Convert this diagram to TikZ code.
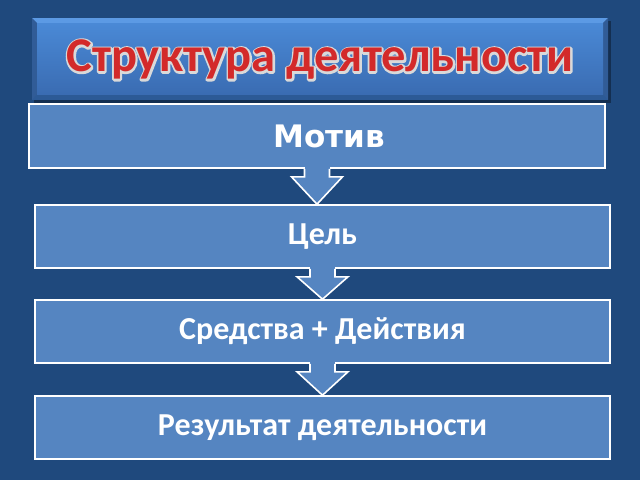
\documentclass[tikz,border=0pt]{standalone}
\usepackage{fontspec}
\newfontfamily\calib{Carlito}
\newfontfamily\dejav{DejaVu Sans}
\usetikzlibrary{calc}
\definecolor{bgblue}{HTML}{1F497D}
\definecolor{boxblue}{HTML}{5585C1}
\definecolor{titletop}{HTML}{4A89D6}
\definecolor{titlebot}{HTML}{3A6CB2}
\definecolor{bevellight}{HTML}{5C9AE4}
\definecolor{beveldark}{HTML}{2C5A96}
\definecolor{titlered}{HTML}{D32A2A}
\newcommand{\strokedtext}[1]{\special{pdf:literal direct 1 Tr 3.8 w 1 j 0.85 0.85 0.85 RG}#1\special{pdf:literal direct 0 Tr}}
\tikzset{
  stepbox/.style={draw=white, line width=1.6pt, fill=boxblue, minimum height=63pt,
    inner sep=0pt, text=white, font=\calib\bfseries\fontsize{32}{36}\selectfont},
  flowarrow/.style={draw=white, line width=1.6pt, fill=boxblue, line join=miter},
  titlefont/.style={font=\calib\bfseries\fontsize{48.5}{54}\selectfont, inner sep=0pt}
}
\begin{document}
\begin{tikzpicture}[x=1pt,y=-1pt]
\fill[bgblue] (0,0) rectangle (640,480);
\useasboundingbox (0,0) rectangle (640,480);
% title box
\fill[black, opacity=0.35] (34,21) rectangle (611,103);
\fill[beveldark] (32,18) rectangle (608,100);
\fill[bevellight] (32,18) -- (608,18) -- (603,23) -- (37,23) -- cycle;
\fill[titlebot!85!black] (32,18) -- (37,23) -- (37,94) -- (32,100) -- cycle;
\fill[titlebot!85!black] (608,18) -- (603,23) -- (603,94) -- (608,100) -- cycle;
\shade[top color=titletop, bottom color=titlebot] (37,23) rectangle (603,94);
\node[titlefont, text=gray!20] (titleedge) at (320,60) {\strokedtext{Структура деятельности}};
\node[titlefont, text=titlered] (title) at (titleedge.center) {Структура деятельности};
% boxes
\node[stepbox, minimum width=576pt, minimum height=64pt, font=\dejav\bfseries\fontsize{31}{34}\selectfont] (motiv) at (317,136) {\hspace*{24pt}Мотив};
\node[stepbox, minimum width=575pt] (goal) at (322.5,236.5) {Цель};
\node[stepbox, minimum width=575pt] (means) at (322.5,331.5) {Средства + Действия};
\node[stepbox, minimum width=575pt] (result) at (322.5,427.5) {Результат деятельности};
% arrows
\foreach \up/\down in {motiv/goal, means/result, goal/means}{
  \coordinate (tip-\up) at (\up.south |- \down.north);
  \fill[boxblue] ($(\up.south)+(-12.5,-1.5)$) rectangle ($(\up.south)+(12.5,1)$);
  \draw[flowarrow] ($(\up.south)+(-12.5,0)$) -- ($(\up.south)+(-12.5,8)$) -- ($(\up.south)+(-25.5,8)$)
     -- (tip-\up) -- ($(\up.south)+(25.5,8)$) -- ($(\up.south)+(12.5,8)$) -- ($(\up.south)+(12.5,0)$);
}
\end{tikzpicture}
\end{document}
